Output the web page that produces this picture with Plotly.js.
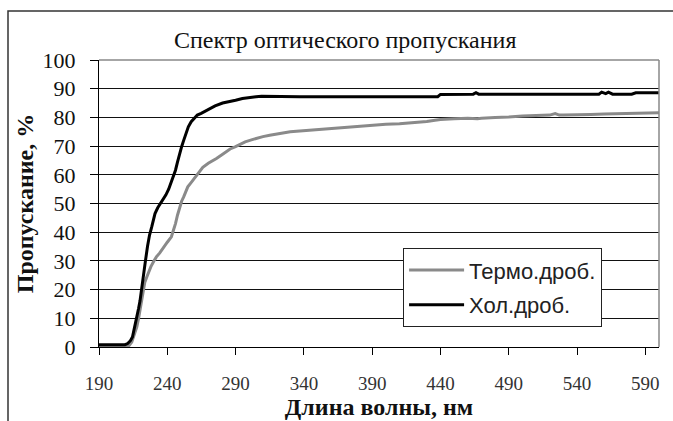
<!DOCTYPE html>
<html>
<head>
<meta charset="utf-8">
<script src="https://cdn.plot.ly/plotly-3.0.1.min.js"></script>
<style>html,body{margin:0;padding:0;background:#fff;}#chart{width:673px;height:421px;}</style>
</head>
<body>
<div id="chart"></div>
<script>
// Термо.дроб. (gray)
const thermoX = [190, 200, 210, 212, 214, 216, 217.7, 219, 220, 221, 222, 223.5, 225, 226.5, 228, 230, 232, 234.5, 237, 240, 243, 244.5, 246, 247.5, 249, 250.5, 252, 253.5, 255, 257, 258.6, 261, 263, 266, 270, 273, 276, 280, 283, 286, 290, 293, 297, 301, 305, 310, 315, 322, 330, 337, 345, 352, 360, 370, 380, 390, 400, 410, 420, 430, 436, 440, 450, 460, 467, 470, 480, 490, 500, 510, 520, 524, 527, 530, 540, 550, 560, 570, 580, 590, 600];
const thermoY = [0.3, 0.3, 0.3, 0.5, 1.7, 4.5, 7, 10, 12.8, 16, 19.8, 22.5, 24.4, 26.5, 28, 29.8, 31.4, 32.8, 34.3, 36.5, 38.4, 40.5, 43, 46, 48.8, 50.8, 52.3, 54.2, 55.8, 57, 58, 59.8, 61, 62.6, 64, 65, 65.7, 67, 68, 69, 69.8, 70.6, 71.5, 72.1, 72.7, 73.3, 73.8, 74.4, 75, 75.3, 75.6, 75.9, 76.2, 76.6, 77, 77.3, 77.6, 77.8, 78.1, 78.6, 79.0, 79.3, 79.5, 79.7, 79.5, 79.7, 80, 80.1, 80.5, 80.6, 80.8, 81.3, 80.8, 80.8, 80.8, 81.0, 81.2, 81.3, 81.4, 81.5, 81.6];
// Хол.дроб. (black)
const coldX = [190, 200, 209, 211, 213, 214.5, 216, 217.7, 219, 220, 221, 222.4, 224, 225.5, 227, 228.7, 230, 231, 233, 235, 237, 239, 241, 243, 244.5, 246, 247.5, 249, 250.5, 252, 253.5, 255.4, 257.5, 260, 262, 264.8, 268, 271, 275, 280.5, 285, 290, 295, 300, 305, 309, 320, 337, 360, 400, 438, 440, 460, 464, 466, 468, 480, 520, 556, 558, 561, 563, 566, 570, 580, 583, 590, 600];
const coldY = [0.8, 0.8, 0.8, 1.2, 2.2, 3.5, 6.5, 10.5, 13.5, 16, 20, 24, 30, 35, 39, 42, 44.5, 46.5, 48.5, 50, 51.5, 53, 55, 57.5, 59.5, 61.6, 64.5, 67.4, 69.8, 72, 74.3, 76.7, 78.5, 80, 80.8, 81.4, 82.3, 83, 84, 85, 85.6, 86, 86.6, 87, 87.2, 87.4, 87.3, 87.2, 87.2, 87.2, 87.2, 88, 88, 88.1, 88.6, 88.1, 88.1, 88.1, 88.1, 88.8, 88.3, 88.8, 88.1, 88.1, 88.1, 88.6, 88.5, 88.6];

const xTicks = [190, 240, 290, 340, 390, 440, 490, 540, 590];
const yTicks = [0, 10, 20, 30, 40, 50, 60, 70, 80, 90, 100];

const serif = 'Liberation Serif, Times New Roman, serif';
const sans = 'Liberation Sans, Arial, sans-serif';

const traces = [
  {x: thermoX, y: thermoY, type: 'scatter', mode: 'lines', name: 'Термо.дроб.',
   legendgroup: 'a', line: {color: '#8a8a8a', width: 3}},
  {x: coldX, y: coldY, type: 'scatter', mode: 'lines', name: 'Хол.дроб.',
   legendgroup: 'b', line: {color: '#000000', width: 3}}
];

const layout = {
  width: 673, height: 421,
  margin: {l: 99, r: 14, t: 60, b: 74, pad: 0},
  paper_bgcolor: '#ffffff', plot_bgcolor: '#ffffff',
  font: {family: serif},
  title: {text: 'Спектр оптического пропускания', font: {family: serif, size: 24, color: '#111'},
          x: 0.513, xanchor: 'center', y: 0.905, yanchor: 'middle', xref: 'container', yref: 'container'},
  xaxis: {
    range: [190, 600], tickvals: xTicks, ticktext: xTicks.map(String),
    showgrid: false, zeroline: false, showline: true, linecolor: '#000', linewidth: 1,
    ticks: 'outside', ticklen: 7, tickcolor: '#000', tickwidth: 1, ticklabelstandoff: 12,
    tickfont: {family: serif, size: 19, color: '#333'},
    title: {text: 'Длина волны, нм', font: {family: serif, size: 24, color: '#111', weight: 'bold'}, standoff: 0}
  },
  yaxis: {
    range: [0, 100], tickvals: yTicks, ticktext: yTicks.map(String),
    showgrid: true, gridcolor: '#111', gridwidth: 1, zeroline: false,
    showline: true, linecolor: '#000', linewidth: 1,
    ticks: 'outside', ticklen: 8, tickcolor: '#000', tickwidth: 1, ticklabelstandoff: 10,
    tickfont: {family: serif, size: 22, color: '#111'},
    title: {text: 'Пропускание, %', font: {family: serif, size: 24, color: '#111', weight: 'bold'}, standoff: 2}
  },
  showlegend: true,
  legend: {
    x: 0.543, xanchor: 'left', y: 0.344, yanchor: 'top',
    bgcolor: '#ffffff', bordercolor: '#222', borderwidth: 1,
    font: {family: sans, size: 22, color: '#222'},
    traceorder: 'grouped', tracegroupgap: 3, itemwidth: 55
  },
  shapes: [
    {type: 'line', xref: 'paper', yref: 'paper', x0: 0, x1: 1, y0: 1, y1: 1, line: {color: '#888', width: 1.5}, layer: 'above'},
    {type: 'line', xref: 'paper', yref: 'paper', x0: 1, x1: 1, y0: 0, y1: 1, line: {color: '#888', width: 1.5}, layer: 'above'},
    {type: 'rect', xref: 'paper', yref: 'paper', x0: -0.1625, x1: 2, y0: -2, y1: 1.1707, line: {color: '#333', width: 1.5}, fillcolor: 'rgba(0,0,0,0)', layer: 'below'}
  ]
};

Plotly.newPlot('chart', traces, layout, {displayModeBar: false, staticPlot: true});
</script>
</body>
</html>
